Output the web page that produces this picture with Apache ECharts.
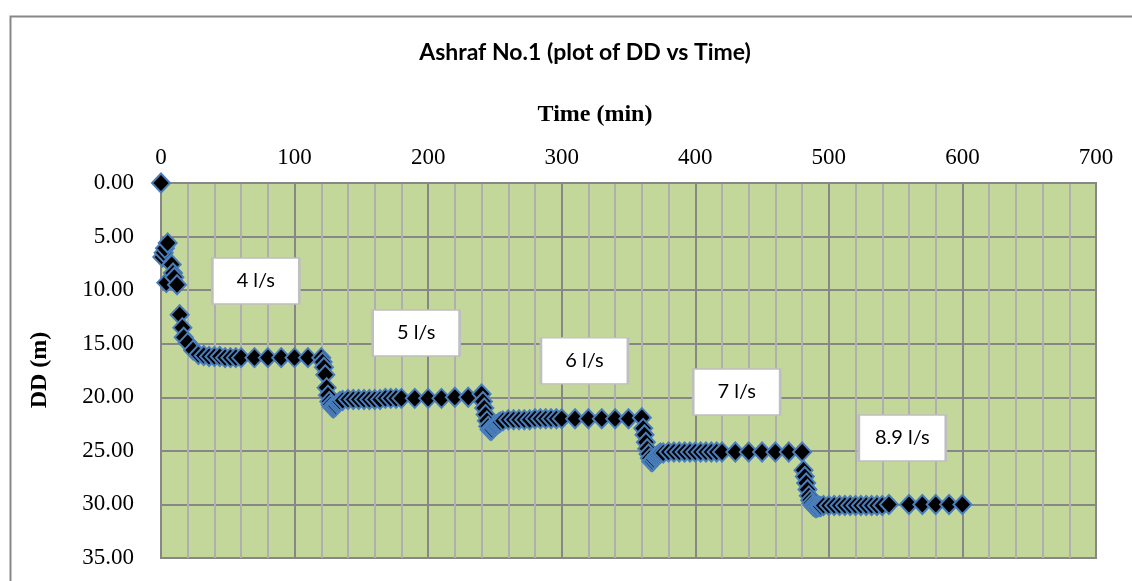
<!DOCTYPE html>
<html>
<head>
<meta charset="utf-8">
<script src="https://cdn.jsdelivr.net/npm/echarts@6/dist/echarts.min.js"></script>
<style>html,body{margin:0;padding:0;background:#fff;}#c{width:1132px;height:581px;}</style>
</head>
<body>
<div id="c"></div>
<script>
// Time (min)
const timeMin = [
  0,1,2,3,4,5,8,9,10,12,14,16,17,20,24,28,32,36,40,44,48,52,56,60,70,80,90,100,110,120,
  121,122,123,124,125,126,127,128,129,130,131,132,133,134,136,140,144,148,152,156,160,164,168,172,176,180,190,200,210,220,230,240,
  241,242,243,244,245,246,247,248,249,250,251,252,253,254,256,260,264,268,272,276,280,284,288,292,296,300,310,320,330,340,350,360,
  361,362,363,364,365,366,367,368,369,370,371,372,373,374,376,380,384,388,392,396,400,404,408,412,416,420,430,440,450,460,470,480,
  481,482,483,484,485,486,487,488,489,490,491,492,493,494,496,500,504,508,512,516,520,524,528,532,536,540,545,560,570,580,590,600
];
// Drawdown DD (m)
const ddM = [
  0.00,6.9,6.5,6.1,9.3,5.6,7.6,8.4,8.8,9.5,12.3,13.5,14.4,14.9,15.6,16.0,16.1,16.2,16.2,16.2,16.3,16.3,16.3,16.3,16.3,16.3,16.3,16.3,16.3,16.3,
  16.7,17.2,17.9,19.1,19.8,20.4,20.7,20.9,21.0,20.9,20.8,20.6,20.5,20.4,20.3,20.2,20.2,20.2,20.2,20.2,20.2,20.2,20.1,20.1,20.1,20.1,20.1,20.1,20.1,20.0,20.0,19.7,
  20.4,21.0,21.6,22.2,22.7,23.0,23.1,23.0,22.8,22.7,22.6,22.5,22.4,22.3,22.2,22.1,22.1,22.1,22.1,22.1,22.0,22.0,22.0,22.0,22.0,22.0,22.0,22.0,22.0,22.0,22.0,21.9,
  22.9,23.5,24.2,24.8,25.3,25.7,26.0,26.0,25.8,25.6,25.5,25.4,25.3,25.2,25.2,25.1,25.1,25.1,25.1,25.1,25.1,25.1,25.1,25.1,25.1,25.1,25.1,25.1,25.1,25.1,25.1,25.1,
  26.8,27.4,28.0,28.6,29.2,29.6,29.9,30.1,30.2,30.3,30.3,30.2,30.2,30.2,30.1,30.1,30.1,30.1,30.1,30.1,30.1,30.1,30.1,30.1,30.1,30.1,30.0,30.0,30.0,30.0,30.0,30.0
];
// Pumping-rate annotations
const rateLabels = ['4 l/s','5 l/s','6 l/s','7 l/s','8.9 l/s'];
const rateTime = [71, 191, 317, 431, 555];
const rateDD = [9.15, 14.0, 16.6, 19.5, 23.8];

const xTicks = [0,100,200,300,400,500,600,700];
const yTicks = [0,5,10,15,20,25,30,35];

const chart = echarts.init(document.getElementById('c'), null, {renderer:'canvas'});
const pts = timeMin.map((t,i)=>[t, ddM[i]]);
const boxes = rateLabels.map((s,i)=>({value:[rateTime[i], rateDD[i]], name:s}));

chart.setOption({
  animation:false,
  backgroundColor:'#ffffff',
  grid:{left:161, right:36, top:183, bottom:23, show:true, backgroundColor:'#c4d79b', borderColor:'#878787', borderWidth:2},
  xAxis:{
    type:'value', position:'top', min:xTicks[0], max:xTicks[xTicks.length-1], interval:100,
    axisLine:{show:true, lineStyle:{color:'#878787', width:2}},
    axisTick:{show:false},
    axisLabel:{margin:14, color:'#000', fontFamily:'"Liberation Serif","Times New Roman",serif', fontSize:23},
    splitLine:{show:true, lineStyle:{color:'#878787', width:2}},
    minorTick:{show:false, splitNumber:5},
    minorSplitLine:{show:true, lineStyle:{color:'#afafaf', width:2}}
  },
  yAxis:{
    type:'value', inverse:true, min:yTicks[0], max:yTicks[yTicks.length-1], interval:5,
    axisLine:{show:true, lineStyle:{color:'#878787', width:2}},
    axisTick:{show:false},
    axisLabel:{margin:27, color:'#000', fontFamily:'"Liberation Serif","Times New Roman",serif', fontSize:23,
      formatter:v=>v.toFixed(2)},
    splitLine:{show:true, lineStyle:{color:'#878787', width:2}}
  },
  graphic:[
    {type:'rect', left:8, top:14, shape:{width:1300, height:800}, style:{fill:'none', stroke:'#878787', lineWidth:2}, silent:true, z:-10},
    {type:'text', x:585, y:53, style:{text:'Ashraf No.1 (plot of DD vs Time)', font:'bold 23px Lato, "Open Sans", sans-serif', fill:'#000', textAlign:'center', textVerticalAlign:'middle'}},
    {type:'text', x:595, y:115, style:{text:'Time (min)', font:'bold 24px "Liberation Serif","Times New Roman",serif', fill:'#000', textAlign:'center', textVerticalAlign:'middle'}},
    {type:'text', x:40, y:370, rotation:Math.PI/2, style:{text:'DD (m)', font:'bold 24px "Liberation Serif","Times New Roman",serif', fill:'#000', textAlign:'center', textVerticalAlign:'middle'}}
  ],
  series:[
    {
      type:'scatter', data:pts, symbol:'diamond', symbolSize:[18,19],
      itemStyle:{color:'#000', borderColor:'#4a7ebb', borderWidth:2, opacity:1},
      clip:false, z:3
    },
    {
      type:'scatter', data:boxes, symbol:'rect', symbolSize:[87,46],
      itemStyle:{color:'#fff', borderColor:'#bfbfbf', borderWidth:2, opacity:1},
      label:{show:true, position:'inside', formatter:p=>p.name, color:'#000', fontFamily:'Lato, "Open Sans", sans-serif', fontSize:20},
      z:4, silent:true
    }
  ]
});
</script>
</body>
</html>
